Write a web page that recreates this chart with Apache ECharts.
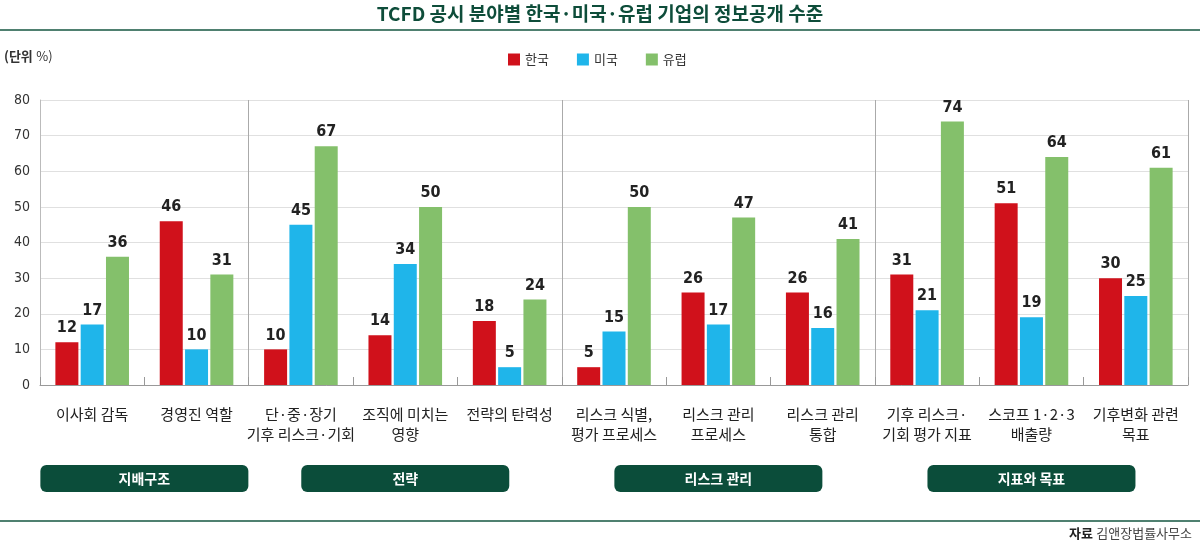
<!DOCTYPE html>
<html><head><meta charset="utf-8">
<script src="https://cdn.jsdelivr.net/npm/echarts@6/dist/echarts.min.js"></script>
<style>html,body{margin:0;padding:0;background:#fff}#c{width:1200px;height:542px}</style>
</head><body><div id="c"></div>
<script>
var categories = ['이사회 감독','경영진 역할','단·중·장기\n기후 리스크·기회','조직에 미치는\n영향','전략의 탄력성','리스크 식별,\n평가 프로세스','리스크 관리\n프로세스','리스크 관리\n통합','기후 리스크·\n기회 평가 지표','스코프 1·2·3\n배출량','기후변화 관련\n목표'];
var korea  = [12,46,10,14,18,5,26,26,31,51,30];
var usa    = [17,10,45,34,5,15,17,16,21,19,25];
var europe = [36,31,67,50,24,50,47,41,74,64,61];
var yTicks = [0,10,20,30,40,50,60,70,80];
var groups = [
  {name:'지배구조', from:0, to:1},
  {name:'전략', from:2, to:4},
  {name:'리스크 관리', from:5, to:7},
  {name:'지표와 목표', from:8, to:10}
];
var groupSeparators = [2,5,8];

var KR = '"Noto Sans CJK KR","Noto Sans",sans-serif';
var NUM = '"DejaVu Sans Condensed","Liberation Sans Narrow",sans-serif';
var chart = echarts.init(document.getElementById('c'));
function ser(name, data, color){
  return {name:name, type:'bar', data:data, barWidth:23, barGap:'10%',
    itemStyle:{color:color},
    label:{show:true, position:'top', distance:6, fontFamily:NUM, fontWeight:'bold', fontSize:16, color:'#222'}};
}
var option = {
  animation:false,
  backgroundColor:'#fff',
  title:{text:'TCFD 공시 분야별 한국·미국·유럽 기업의 정보공개 수준', left:'center', top:-1,
    textStyle:{fontFamily:KR, fontWeight:'bold', fontSize:19, color:'#0e4d3a'}},
  legend:{left:503, top:48, itemWidth:12, itemHeight:12, itemGap:28, icon:'rect',
    textStyle:{fontFamily:KR, fontSize:13, color:'#333'}, data:['한국','미국','유럽']},
  grid:{left:40, right:12, top:100, bottom:157},
  xAxis:{type:'category', data:categories, boundaryGap:true,
    axisLine:{lineStyle:{color:'#999'}},
    axisTick:{show:true, inside:true, length:8, lineStyle:{color:'#999'}},
    splitLine:{show:true, interval:function(i){return groupSeparators.indexOf(i)>=0;}, lineStyle:{color:'#aaa', width:1}},
    axisLabel:{interval:0, margin:19, fontFamily:KR, fontSize:15, color:'#222', lineHeight:20}},
  yAxis:{type:'value', min:yTicks[0], max:yTicks[yTicks.length-1], interval:10,
    axisLine:{show:true, lineStyle:{color:'#bbb'}},
    axisTick:{show:false},
    splitLine:{lineStyle:{color:'#e0e0e0'}},
    axisLabel:{margin:10, fontFamily:'"Liberation Sans Narrow","DejaVu Sans Condensed",sans-serif', fontSize:14, color:'#333'}},
  series:[ser('한국',korea,'#d0111b'), ser('미국',usa,'#1fb5ea'), ser('유럽',europe,'#84c06b')]
};
chart.setOption(option);

var g = [
  {type:'line', shape:{x1:0,y1:30,x2:1200,y2:30}, style:{stroke:'#4f8070', lineWidth:2}},
  {type:'line', shape:{x1:0,y1:521,x2:1200,y2:521}, style:{stroke:'#4f8070', lineWidth:2}},
  {type:'text', left:4, top:50, style:{text:'{b|(단위} {n|%)}', rich:{b:{fontFamily:KR,fontWeight:'bold',fontSize:13,fill:'#333'}, n:{fontFamily:KR,fontSize:13,fill:'#333'}}}},
  {type:'text', right:8, top:527, style:{text:'{b|자료} {n|김앤장법률사무소}', rich:{b:{fontFamily:KR,fontWeight:'bold',fontSize:13,fill:'#222'}, n:{fontFamily:KR,fontSize:13,fill:'#444'}}}}
];
var bw = chart.convertToPixel({xAxisIndex:0}, categories[1]) - chart.convertToPixel({xAxisIndex:0}, categories[0]);
groups.forEach(function(gr){
  var x0 = chart.convertToPixel({xAxisIndex:0}, categories[gr.from]) - bw/2;
  var x1 = chart.convertToPixel({xAxisIndex:0}, categories[gr.to]) + bw/2;
  var cx = (x0+x1)/2, w = 208;
  g.push({type:'rect', shape:{x:cx-w/2, y:465, width:w, height:27, r:6}, style:{fill:'#0b4d3a'}});
  g.push({type:'text', x:cx, y:478.5, style:{text:gr.name, fontFamily:KR, fontWeight:'bold', fontSize:14, fill:'#fff', align:'center', verticalAlign:'middle'}});
});
chart.setOption({graphic:g});
</script></body></html>
